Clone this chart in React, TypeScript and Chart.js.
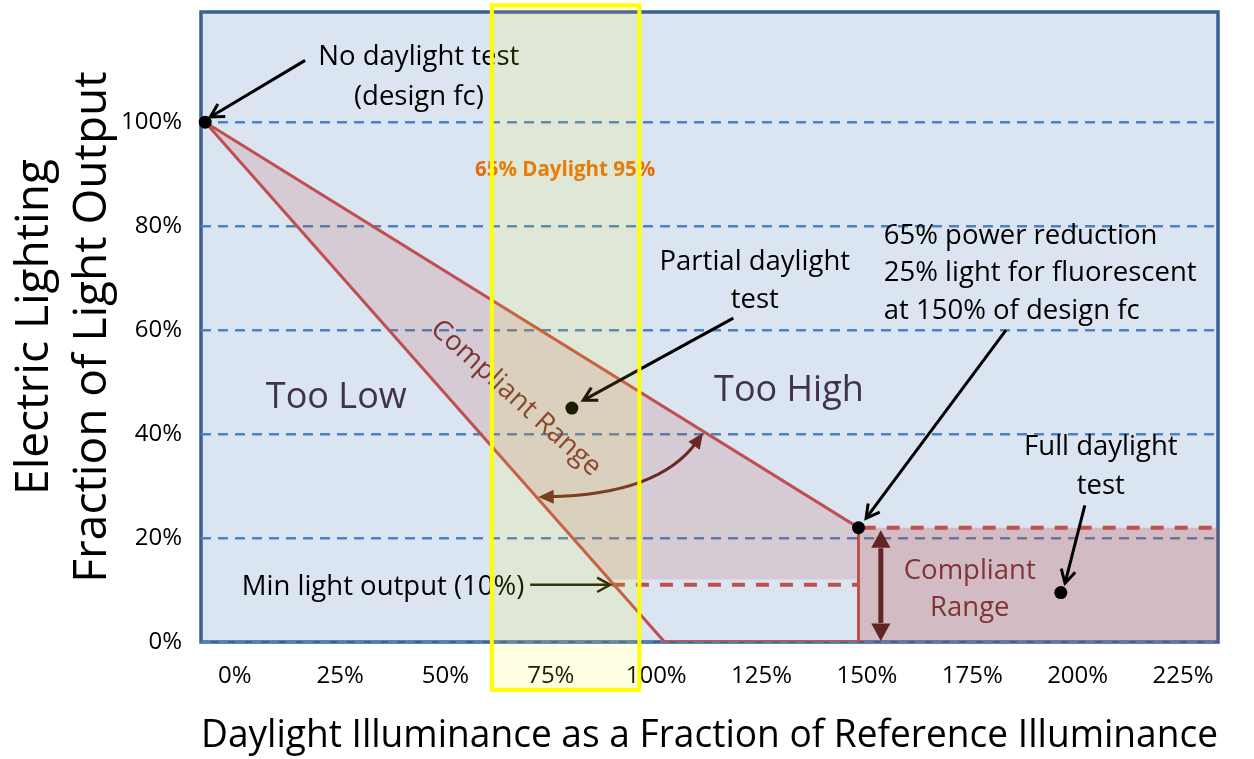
import React, { useEffect, useRef } from 'react';
import { Chart, registerables } from 'chart.js';

Chart.register(...registerables);

const FONT = '"Open Sans", "DejaVu Sans", sans-serif';

// ---- axes ----
const xTicks = [0, 25, 50, 75, 100, 125, 150, 175, 200, 225];
const yTicks = [0, 20, 40, 60, 80, 100];
const xLimits = [-8, 233.3];
const yLimits = [0, 121.2];

// ---- data (daylight % of reference, light output %) ----
// outline of the partial-daylight envelope
const envelopeX = [-7, 102, 148, 148, -7];
const envelopeY = [100, 0, 0, 22, 100];
// shaded partial-daylight compliant band
const bandX = [-7, 148, 148, 89, -7];
const bandY = [100, 22, 12, 12, 100];
// full-daylight compliant range
const fullX = [148, 233.3, 233.3, 148];
const fullY = [22, 22, 0, 0];
// full-daylight upper limit (dashed)
const fullTopX = [149, 233.3];
const fullTopY = [22, 22];
// minimum light output line (dashed)
const minLineX = [89.5, 148];
const minLineY = [11, 11];
// test points: no daylight, partial, 150% point, full daylight
const testX = [-7, 80, 148, 196];
const testY = [100, 45, 22, 9.5];
// daylight band 65%..95% (highlight box)
const daylightBandX = [61, 96];
const daylightBandY = [-9.2, 122.5];

// ---- annotations (in data units) ----
type Note = { text: string; x: number; y: number; align?: CanvasTextAlign };
const blackNotes: Note[] = [
  { text: 'No daylight test', x: 43.7, y: 112.5 },
  { text: '(design fc)', x: 43.7, y: 104.8 },
  { text: 'Partial daylight', x: 123.4, y: 73.1 },
  { text: 'test', x: 123.4, y: 65.8 },
  { text: '65% power reduction', x: 154, y: 78.1, align: 'left' },
  { text: '25% light for fluorescent', x: 154, y: 71.0, align: 'left' },
  { text: 'at 150% of design fc', x: 154, y: 63.7, align: 'left' },
  { text: 'Full daylight', x: 205.5, y: 37.5 },
  { text: 'test', x: 205.5, y: 30.0 },
  { text: 'Min light output (10%)', x: 35.2, y: 10.6 },
];
const regionNotes: Note[] = [
  { text: 'Too Low', x: 24.1, y: 46.9 },
  { text: 'Too High', x: 131.5, y: 48.3 },
];
const rangeNotes: Note[] = [
  { text: 'Compliant', x: 174.4, y: 13.7 },
  { text: 'Range', x: 174.4, y: 6.5 },
];
const slantedNote = { text: 'Compliant Range', x: 66.7, y: 46.9, angleDeg: 42 };
const bandNote = { text: '65% Daylight 95%', x: 78.4, y: 90.8 };

// black pointer arrows: [tailX, tailY, tipX, tipY]
const pointerArrows = [
  [16.7, 111.9, -5.8, 101],
  [118.3, 62.3, 82.7, 46.5],
  [183.0, 60.0, 149.8, 23.8],
  [201.7, 26.3, 197.0, 11.3],
];
const minArrow = [70.1, 11, 89.1, 11];
// double arrow showing full-daylight compliant range
const rangeArrow = [153.3, 21.5, 153.3, 0.2];
// curved double arrow across partial band: start, control, end
const curveArrow = [111.1, 40.2, 100.8, 28.3, 72.0, 27.9];

const pts = (xs: number[], ys: number[]) => xs.map((x, i) => ({ x, y: ys[i] }));

function headPoints(tx: number, ty: number, ang: number, len: number, half: number) {
  return [
    [tx - len * Math.cos(ang - half), ty - len * Math.sin(ang - half)],
    [tx - len * Math.cos(ang + half), ty - len * Math.sin(ang + half)],
  ];
}

const annotationPlugin = {
  id: 'diagramAnnotations',
  beforeDraw(chart: any) {
    const { ctx, chartArea } = chart;
    const { left, top, right, bottom } = chartArea;
    ctx.save();
    ctx.fillStyle = '#dbe5f1';
    ctx.fillRect(left, top, right - left, bottom - top);
    ctx.strokeStyle = '#3a5f90';
    ctx.lineWidth = 3.5;
    ctx.strokeRect(left, top, right - left, bottom - top);
    ctx.restore();
  },
  afterDatasetsDraw(chart: any) {
    const { ctx } = chart;
    const sx = chart.scales.x;
    const sy = chart.scales.y;
    const P = (x: number, y: number) => [sx.getPixelForValue(x), sy.getPixelForValue(y)];
    ctx.save();
    ctx.textBaseline = 'middle';

    const drawNotes = (notes: Note[], font: string, color: string) => {
      ctx.font = font;
      ctx.fillStyle = color;
      notes.forEach((n) => {
        const [px, py] = P(n.x, n.y);
        ctx.textAlign = n.align || 'center';
        ctx.fillText(n.text, px, py);
      });
    };
    drawNotes(blackNotes, `27.5px ${FONT}`, '#000000');
    drawNotes(regionNotes, `36px ${FONT}`, '#403151');
    drawNotes(rangeNotes, `27.5px ${FONT}`, '#7d3535');

    // slanted label
    {
      const [px, py] = P(slantedNote.x, slantedNote.y);
      ctx.save();
      ctx.translate(px, py);
      ctx.rotate((slantedNote.angleDeg * Math.PI) / 180);
      ctx.font = `27.5px ${FONT}`;
      ctx.fillStyle = '#7b3331';
      ctx.textAlign = 'center';
      ctx.fillText(slantedNote.text, 0, 0);
      ctx.restore();
    }
    // band label
    {
      const [px, py] = P(bandNote.x, bandNote.y);
      ctx.font = `bold 20.5px ${FONT}`;
      ctx.fillStyle = '#e46c0a';
      ctx.textAlign = 'center';
      ctx.fillText(bandNote.text, px, py);
    }

    // black pointer arrows with open heads
    const openArrow = (a: number[], color: string, width: number) => {
      const [x1, y1] = P(a[0], a[1]);
      const [x2, y2] = P(a[2], a[3]);
      const ang = Math.atan2(y2 - y1, x2 - x1);
      ctx.strokeStyle = color;
      ctx.lineWidth = width;
      ctx.lineCap = 'butt';
      ctx.lineJoin = 'miter';
      ctx.beginPath();
      ctx.moveTo(x1, y1);
      ctx.lineTo(x2 - Math.cos(ang) * 2, y2 - Math.sin(ang) * 2);
      ctx.stroke();
      const [h1, h2] = headPoints(x2, y2, ang, 15, 0.5);
      ctx.beginPath();
      ctx.moveTo(h1[0], h1[1]);
      ctx.lineTo(x2, y2);
      ctx.lineTo(h2[0], h2[1]);
      ctx.stroke();
    };
    pointerArrows.forEach((a) => openArrow(a, '#000000', 3));
    openArrow(minArrow, '#1c1c0a', 2.5);

    // filled-head helper
    const filledHead = (tx: number, ty: number, ang: number, len: number, half: number, color: string) => {
      const [h1, h2] = headPoints(tx, ty, ang, len, half);
      ctx.fillStyle = color;
      ctx.beginPath();
      ctx.moveTo(tx, ty);
      ctx.lineTo(h1[0], h1[1]);
      ctx.lineTo(h2[0], h2[1]);
      ctx.closePath();
      ctx.fill();
    };

    // vertical double arrow
    {
      const color = '#632523';
      const [x1, y1] = P(rangeArrow[0], rangeArrow[1]);
      const [x2, y2] = P(rangeArrow[2], rangeArrow[3]);
      const ang = Math.atan2(y2 - y1, x2 - x1);
      const len = 20;
      ctx.strokeStyle = color;
      ctx.lineWidth = 5;
      ctx.beginPath();
      ctx.moveTo(x1 + Math.cos(ang) * (len - 2), y1 + Math.sin(ang) * (len - 2));
      ctx.lineTo(x2 - Math.cos(ang) * (len - 2), y2 - Math.sin(ang) * (len - 2));
      ctx.stroke();
      filledHead(x2, y2, ang, len, 0.5, color);
      filledHead(x1, y1, ang + Math.PI, len, 0.5, color);
    }

    // curved double arrow
    {
      const color = '#6b2722';
      const [ax, ay] = P(curveArrow[0], curveArrow[1]);
      const [cx, cy] = P(curveArrow[2], curveArrow[3]);
      const [bx, by] = P(curveArrow[4], curveArrow[5]);
      const angA = Math.atan2(ay - cy, ax - cx);
      const angB = Math.atan2(by - cy, bx - cx);
      const len = 17;
      ctx.strokeStyle = color;
      ctx.lineWidth = 3;
      ctx.beginPath();
      ctx.moveTo(ax - Math.cos(angA) * 10, ay - Math.sin(angA) * 10);
      ctx.quadraticCurveTo(cx, cy, bx - Math.cos(angB) * 10, by - Math.sin(angB) * 10);
      ctx.stroke();
      filledHead(ax, ay, angA, len, 0.42, color);
      filledHead(bx, by, angB, len, 0.42, color);
    }
    ctx.restore();
  },
  afterDraw(chart: any) {
    const { ctx } = chart;
    const sx = chart.scales.x;
    const sy = chart.scales.y;
    const x1 = sx.getPixelForValue(daylightBandX[0]);
    const x2 = sx.getPixelForValue(daylightBandX[1]);
    const y1 = sy.getPixelForValue(daylightBandY[1]);
    const y2 = sy.getPixelForValue(daylightBandY[0]);
    ctx.save();
    ctx.fillStyle = 'rgba(255,255,0,0.11)';
    ctx.fillRect(x1, y1, x2 - x1, y2 - y1);
    ctx.strokeStyle = '#ffff00';
    ctx.lineWidth = 4;
    ctx.strokeRect(x1, y1, x2 - x1, y2 - y1);
    ctx.restore();
  },
};

export default function App() {
  const canvasRef = useRef<HTMLCanvasElement | null>(null);

  useEffect(() => {
    if (!canvasRef.current) return;
    const red = '#c0504d';
    const chart = new Chart(canvasRef.current, {
      type: 'line',
      data: {
        datasets: [
          {
            label: 'Test points',
            data: pts(testX, testY),
            showLine: false,
            pointRadius: 6.5,
            pointBackgroundColor: '#000000',
            pointBorderWidth: 0,
            borderColor: '#000000',
            clip: false,
            order: 0,
          },
          {
            label: 'Minimum light output',
            data: pts(minLineX, minLineY),
            borderColor: red,
            borderWidth: 4,
            borderDash: [13, 11],
            pointRadius: 0,
            fill: false,
            order: 1,
          },
          {
            label: 'Full daylight upper limit',
            data: pts(fullTopX, fullTopY),
            borderColor: red,
            borderWidth: 4,
            borderDash: [13, 11],
            pointRadius: 0,
            fill: false,
            order: 1,
          },
          {
            label: 'Partial daylight envelope',
            data: pts(envelopeX, envelopeY),
            borderColor: red,
            borderWidth: 3,
            borderJoinStyle: 'miter',
            pointRadius: 0,
            fill: false,
            order: 2,
          },
          {
            label: 'Partial daylight compliant band',
            data: pts(bandX, bandY),
            borderColor: 'rgba(0,0,0,0)',
            borderWidth: 0,
            pointRadius: 0,
            fill: 'shape',
            backgroundColor: 'rgba(192,80,77,0.17)',
            order: 3,
          },
          {
            label: 'Full daylight compliant range',
            data: pts(fullX, fullY),
            borderColor: 'rgba(0,0,0,0)',
            borderWidth: 0,
            pointRadius: 0,
            fill: 'shape',
            backgroundColor: 'rgba(192,80,77,0.28)',
            order: 3,
          },
        ],
      },
      options: {
        animation: false,
        responsive: true,
        maintainAspectRatio: false,
        devicePixelRatio: 1,
        layout: { padding: { left: 0, top: 12, right: 36, bottom: 0 } },
        plugins: {
          legend: { display: false },
          tooltip: { enabled: false },
        },
        elements: { line: { tension: 0 } },
        scales: {
          x: {
            type: 'linear',
            min: xLimits[0],
            max: xLimits[1],
            afterBuildTicks: (s: any) => {
              s.ticks = xTicks.map((v) => ({ value: v }));
            },
            afterFit: (s: any) => {
              s.height = 117;
              s.paddingLeft = 0;
              s.paddingRight = 0;
            },
            grid: { display: false, drawTicks: false },
            border: { display: false },
            ticks: {
              autoSkip: false,
              maxRotation: 0,
              padding: 20,
              color: '#000000',
              font: { family: FONT, size: 24 },
              callback: (v: any) => `${v}%`,
            },
            title: {
              display: true,
              text: 'Daylight Illuminance as a Fraction of Reference Illuminance',
              color: '#000000',
              font: { family: FONT, size: 37.5 },
              padding: { top: 0, bottom: 0 },
            },
          },
          y: {
            type: 'linear',
            min: yLimits[0],
            max: yLimits[1],
            afterBuildTicks: (s: any) => {
              s.ticks = yTicks.map((v) => ({ value: v }));
            },
            afterFit: (s: any) => {
              s.width = 201;
              s.paddingTop = 0;
              s.paddingBottom = 0;
            },
            grid: { color: '#4f81bd', lineWidth: 2.5, drawTicks: false },
            border: { display: false, dash: [10, 7] },
            ticks: {
              padding: 19,
              color: '#000000',
              font: { family: FONT, size: 24 },
              callback: (v: any) => `${v}%`,
            },
            title: {
              display: true,
              text: ['Electric Lighting', 'Fraction of Light Output'],
              color: '#000000',
              font: { family: FONT, size: 46, lineHeight: 1.26 },
              padding: { top: 6, bottom: 0 },
            },
          },
        },
      },
      plugins: [annotationPlugin],
    } as any);
    return () => chart.destroy();
  }, []);

  return (
    <div style={{ position: 'absolute', left: 0, top: 0, width: 1254, height: 759 }}>
      <canvas ref={canvasRef} />
    </div>
  );
}
